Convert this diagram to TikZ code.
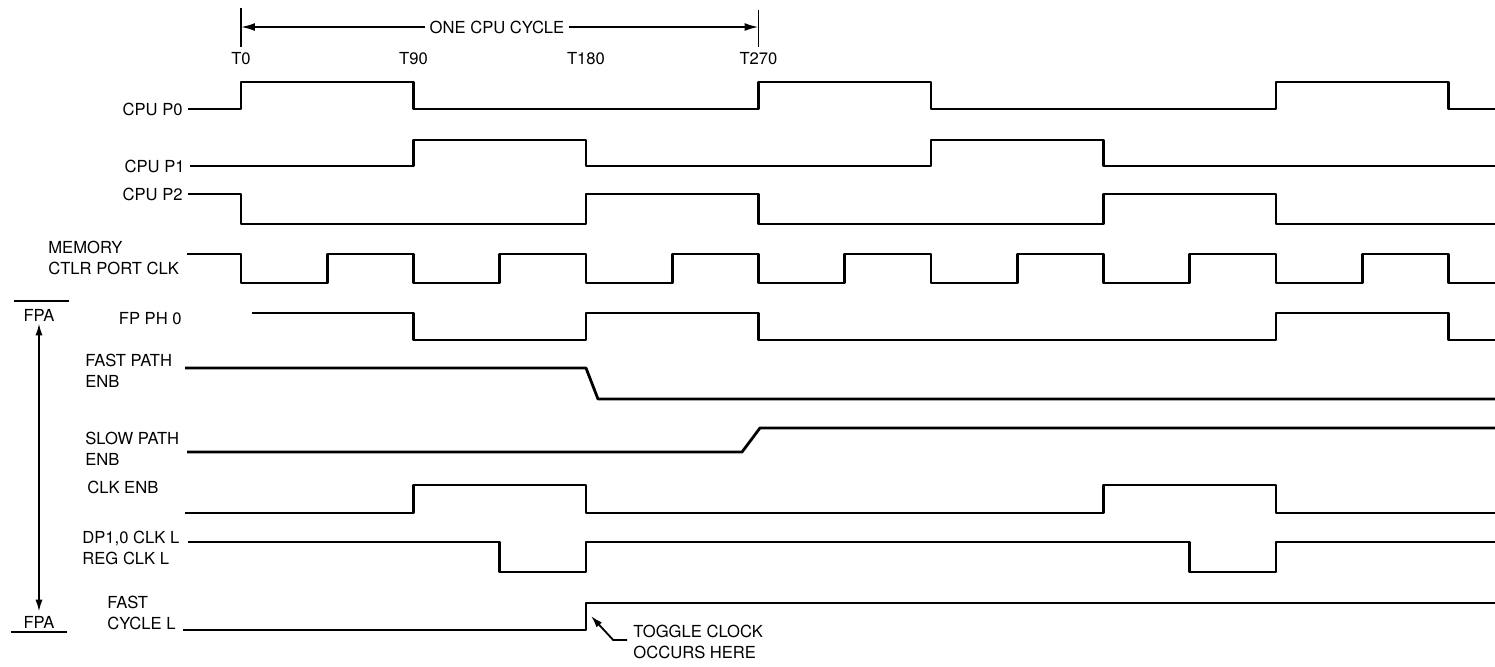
\documentclass[tikz,border=0pt]{standalone}
\usepackage{fontspec}
\setmainfont{TeX Gyre Heros}
\usetikzlibrary{arrows.meta}

\begin{document}
\begin{tikzpicture}[
    x=43.125pt,
    y=-0.5pt,
    >={Latex[length=7pt,width=4pt]},
    signal/.style={line width=1.4pt,line join=round},
    guide/.style={line width=0.9pt},
    lbl/.style={inner sep=0pt,font=\fontsize{8.3}{10.75}\selectfont}
]
  \useasboundingbox (-2.7942,0) rectangle (14.5391,666);

  \draw[guide] (0,8) -- (0,47);
  \draw[guide] (6,10) -- (6,47);
  \coordinate (c0) at (0,27);
  \coordinate (c270) at (6,27);
  \node[lbl] (cycle) at (2.968,27) {ONE CPU CYCLE};
  \draw[guide,->] ([xshift=-2pt]cycle.west) -- (c0);
  \draw[guide,->] ([xshift=2pt]cycle.east) -- (c270);

  \foreach \t/\name in {0/T0,2/T90,4/T180,6/T270}
    \node[lbl] (tick\t) at (\t,59) {\name};

  \node[lbl,anchor=east] (cpup0) at (-0.672,109) {CPU P0};
  \node[lbl,anchor=east] (cpup1) at (-0.649,166) {CPU P1};
  \node[lbl,anchor=east] (cpup2) at (-0.672,194) {CPU P2};
  \node[lbl,anchor=west,align=left] (memclk) at (-2.238,258) {MEMORY\\CTLR PORT CLK};
  \node[lbl,anchor=east] (fpph0) at (-0.684,319) {FP PH 0};
  \node[lbl,anchor=west,align=left] (fastenb) at (-1.809,371) {FAST PATH\\ENB};
  \node[lbl,anchor=west,align=left] (slowenb) at (-1.809,449) {SLOW PATH\\ENB};
  \node[lbl,anchor=west] (clkenb) at (-1.786,487) {CLK ENB};
  \node[lbl,anchor=west,align=left] (regclk) at (-1.843,548) {DP1,0 CLK L\\REG CLK L};
  \node[lbl,anchor=west,align=left] (fastcyc) at (-1.554,613) {FAST\\CYCLE L};

  \draw[signal] (-0.614,109) -| (0,82) -| (2,109) -| (6,82) -| (8,109) -| (12,82) -| (14,109) -- (14.54,109);
  \draw[signal] (-0.591,166) -| (2,140) -| (4,166) -| (8,140) -| (10,166) -- (14.54,166);
  \draw[signal] (-0.614,194) -| (0,224) -| (4,194) -| (6,224) -| (10,194) -| (12,224) -- (14.54,224);
  \draw[signal] (-0.626,254) -| (0,283)
    \foreach \k in {1,3,...,13} { -| (\k,254) -| (\k+1,283) } -- (14.54,283);
  \draw[signal] (0.128,313) -| (2,340) -| (4,313) -| (6,340) -| (12,313) -| (14,340) -- (14.54,340);
  \draw[signal] (-0.649,368) -- (4,368) -- (4.139,399) -- (14.54,399);
  \draw[signal] (-0.626,452) -- (5.809,452) -- (6.017,428) -- (14.54,428);
  \draw[signal] (-0.649,513) -| (2,485) -| (4,513) -| (10,485) -| (12,513) -- (14.54,513);
  \draw[signal] (-0.614,542) -| (3,572) -| (4,542) -| (11,572) -| (12,542) -- (14.54,542);
  \draw[signal] (-0.672,630) -| (4,603) -- (14.54,603);

  \node[lbl] (fpatop) at (-2.342,315) {FPA};
  \draw[guide] (-2.632,301) -- (-1.994,301);
  \node[lbl] (fpabot) at (-2.342,622) {FPA};
  \draw[guide] (-2.667,632) -- (-2.017,632);
  \draw[guide,<->,>={Latex[length=6pt,width=3.6pt]}] ([yshift=-1pt]fpatop.south) -- ([yshift=2pt]fpabot.north);

  \node[lbl,anchor=west,align=left] (toggle) at (4.545,642) {TOGGLE CLOCK\\OCCURS HERE};
  \coordinate (tgtip) at (4.058,616);
  \draw[guide,->,>={Latex[length=6pt,width=3.6pt]}] ([xshift=-3pt,yshift=1pt]toggle.west) -- ++(-0.16,0) -- (tgtip);
\end{tikzpicture}
\end{document}
